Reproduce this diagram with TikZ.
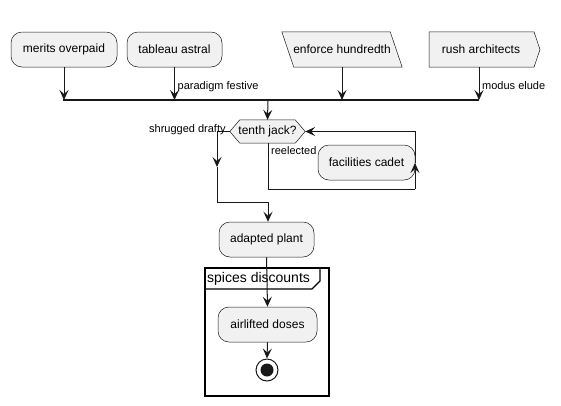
\documentclass[tikz,border=0pt]{standalone}
\usepackage{fontspec}
\setmainfont{Liberation Sans}
\usetikzlibrary{arrows.meta}
\definecolor{boxfill}{HTML}{F1F1F1}
\definecolor{ln}{HTML}{181818}
\begin{document}
\begin{tikzpicture}[x=1pt,y=1pt,
  every node/.style={font=\fontsize{12}{14}\selectfont, text=black},
  act/.style={draw=ln, line width=0.5pt, fill=boxfill, rounded corners=11pt, minimum height=35pt, inner sep=0pt},
  plain/.style={minimum height=35pt, inner sep=0pt},
  shp/.style={draw=ln, line width=0.5pt, fill=boxfill},
  conn/.style={draw=ln, line width=1pt},
  arr/.style={conn, -{Stealth[length=10pt,width=9pt,inset=4pt]}},
  lbl/.style={font=\fontsize{11}{13}\selectfont, inner sep=0pt}]
\useasboundingbox (0,0) rectangle (561,-405);
\fill[white] (0,0) rectangle (561,-405);

% top row
\node[act, minimum width=106pt] (mer) at (64,-49.5) {merits overpaid};
\node[act, minimum width=95pt] (tab) at (174.5,-49.5) {tableau astral};
\node[plain, minimum width=120pt] (enf) at (342,-49.5) {};
\path[shp] (enf.north west) -- ([xshift=-12pt]enf.north east) -- (enf.south east) -- ([xshift=12pt]enf.south west) -- cycle;
\node at (enf) {enforce hundredth};
\node[plain, minimum width=100pt] (rush) at (479,-49.5) {};
\path[shp] ([xshift=-50pt]rush.north) -- ([xshift=55pt]rush.north) -- ([xshift=61pt]rush.center) -- ([xshift=55pt]rush.south) -- ([xshift=-50pt]rush.south) -- cycle;
\node at ([xshift=2pt]rush.center) {rush architects};

% join bar
\coordinate (bar) at (0,-100);
\coordinate (barL) at (63,-100);
\coordinate (barR) at (479,-100);
\draw[arr] (mer.south) -- (mer.south |- bar);
\draw[arr] (tab.south) -- (tab.south |- bar);
\draw[arr] (enf.south) -- (enf.south |- bar);
\draw[arr] (rush.south) -- (rush.south |- bar);
\draw[draw=ln, line width=2pt] (barL) -- (barR);
\node[lbl, anchor=base west] at ([xshift=3pt,yshift=11pt]tab.south |- bar) {paradigm festive};
\node[lbl, anchor=base west] at ([xshift=3pt,yshift=11pt]rush.south |- bar) {modus elude};

% decision hexagon
\node[inner sep=0pt, minimum width=75pt, minimum height=23pt] (tj) at (267.5,-131.5) {};
\path[shp] (tj.west) -- ([xshift=10pt]tj.north west) -- ([xshift=-10pt]tj.north east) -- (tj.east) -- ([xshift=-10pt]tj.south east) -- ([xshift=10pt]tj.south west) -- cycle;
\node at (tj) {tenth jack?};
\coordinate (barC) at (268,-100);
\draw[arr] (barC) -- (tj.north);

% nodes below
\node[act, minimum width=95pt] (ap) at (266.5,-239.5) {adapted plant};
\node[act, minimum width=99pt] (ad) at (267.5,-324.5) {airlifted doses};

% left branch
\coordinate (lmid) at (217,-167);
\coordinate (lbot) at (217,-202);
\coordinate (lin) at (268,-202);
\draw[arr] (tj.west) -| (lmid);
\draw[conn] (lmid) -- (lbot) -- (lin);
\draw[arr] (lin) -- (lin |- ap.north);
\node[lbl, anchor=base east] at ([xshift=-4pt,yshift=-1pt]tj.west) {shrugged drafty};

% right loop
\coordinate (rb) at (268,-189);
\coordinate (rr) at (415,-189);
\coordinate (rtip) at (415,-163);
\coordinate (rtop) at (415,-131.5);
\draw[conn] (tj.south -| rb) -- (rb) -- (rr);
\draw[arr] (rtip) -- (rtop) -- (tj.east);
\node[lbl, anchor=base west] at (271,-154) {reelected};
\node[act, minimum width=97pt] (fc) at (366.5,-162.5) {facilities cadet};
\draw[arr] (rr) -- (rtip);

% group frame
\draw[draw=black, line width=1.5pt] (205,-268) rectangle (329,-396);
\draw[draw=black, line width=1.2pt] (205,-289) -- (312,-289) -- (320,-281) -- (320,-268);
\node[anchor=west, inner sep=0pt, font=\fontsize{14}{16}\selectfont] (gt) at (207,-278.5) {spices discounts};

\draw[arr] (ap.south) -- (ad.north);

% stop
\node[circle, draw=ln, line width=1pt, fill=white, minimum size=22pt, inner sep=0pt] (stop) at (267,-370) {};
\fill[ln] (stop.center) circle (6.5pt);
\draw[arr] (ad.south) -- (stop.north);
\end{tikzpicture}
\end{document}
